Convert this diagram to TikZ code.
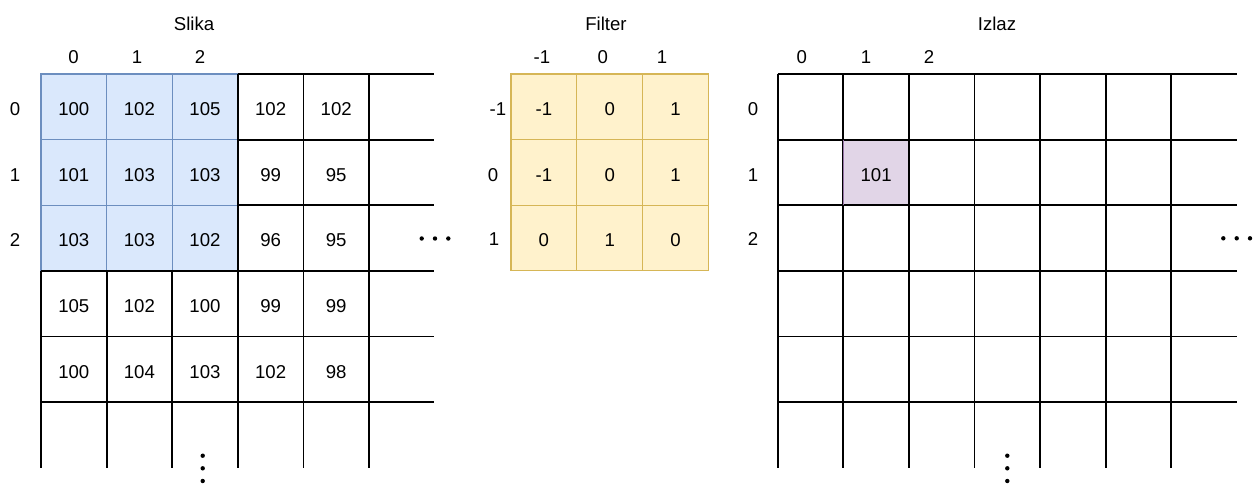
\documentclass[tikz,border=0pt]{standalone}
\usepackage{fontspec}
\setmainfont{Liberation Sans}
\definecolor{bluefill}{HTML}{DAE8FC}
\definecolor{bluedraw}{HTML}{6C8EBF}
\definecolor{yelfill}{HTML}{FFF2CC}
\definecolor{yeldraw}{HTML}{D6B656}
\definecolor{purfill}{HTML}{E1D5E7}
\definecolor{purdraw}{HTML}{9673A6}
\begin{document}
\begin{tikzpicture}[x=0.5pt,y=-0.5pt,
  txt/.style={font=\fontsize{9.3}{11}\selectfont, inner sep=0pt},
  gridline/.style={line width=0.9pt, black},
  bluecell/.style={fill=bluefill, draw=bluedraw, line width=0.55pt},
  yelcell/.style={fill=yelfill, draw=yeldraw, line width=0.55pt},
  purcell/.style={fill=purfill},
  dot/.style={fill=black}]
\useasboundingbox (0,0) rectangle (1259,483);

% ---------------- Slika ----------------
\foreach \r in {0,1,2} \foreach \c in {0,1,2}
  \draw[bluecell] ({41+65.6*\c},{74+65.6*\r}) rectangle ++(65.6,65.6);
\foreach \y in {74,139.6,205.2} \draw[gridline] (237.8,\y) -- (434,\y);
\foreach \y in {270.8,336.4,402} \draw[gridline] (41,\y) -- (434,\y);
\foreach \x in {237.8,303.4,369} \draw[gridline] (\x,74) -- (\x,467.6);
\foreach \x in {41,106.6,172.2} \draw[gridline] (\x,270.8) -- (\x,467.6);

\foreach \row [count=\r from 0] in {{100,102,105,102,102},{101,103,103,99,95},{103,103,102,96,95},{105,102,100,99,99},{100,104,103,102,98}}
  \foreach \v [count=\c from 0] in \row
    \node[txt] (s\r\c) at ({73.8+65.6*\c},{109.3+65.6*\r}) {\v};

\node[txt] (slika) at (194,24.2) {Slika};
\node[txt] (sc0) at (73.5,57) {0};
\node[txt] (sc1) at (137,57) {1};
\node[txt] (sc2) at (200,57) {2};
\node[txt] (sr0) at (15,109.3) {0};
\node[txt] (sr1) at (15,174.9) {1};
\node[txt] (sr2) at (15,239.5) {2};

\foreach \x in {421.7,435,448.3} \fill[dot] (\x,238.5) circle[radius=1.1pt];
\foreach \y in {455.7,468.3,481} \fill[dot] (202.7,\y) circle[radius=1.1pt];

% ---------------- Filter ----------------
\foreach \r in {0,1,2} \foreach \c in {0,1,2}
  \draw[yelcell] ({511+65.8*\c},{74+65.6*\r}) rectangle ++(65.8,65.6);
\foreach \row [count=\r from 0] in {{-1,0,1},{-1,0,1},{0,1,0}}
  \foreach \v [count=\c from 0] in \row
    \node[txt] (f\r\c) at ({543.9+65.8*\c},{109.3+65.6*\r}) {\v};

\node[txt] (filter) at (606,24.2) {Filter};
\node[txt] (fc0) at (542,57) {-1};
\node[txt] (fc1) at (602.7,57) {0};
\node[txt] (fc2) at (662,57) {1};
\node[txt] (fr0) at (498,109.3) {-1};
\node[txt] (fr1) at (493,174.9) {0};
\node[txt] (fr2) at (494,239.5) {1};

% ---------------- Izlaz ----------------
\fill[purcell] (843.3,139.6) rectangle ++(65.6,65.6);
\foreach \y in {74,139.6,205.2,270.8,336.4,402} \draw[gridline] (777.7,\y) -- (1237.3,\y);
\foreach \x in {777.7,843.3,908.9,974.5,1040.1,1105.7,1171.3} \draw[gridline] (\x,74) -- (\x,467.6);
\draw[purdraw, line width=0.55pt] (843.3,139.6) -- (843.3,205.2);
\node[txt] (o11) at (876.1,174.9) {101};

\node[txt] (izlaz) at (997,24.2) {Izlaz};
\node[txt] (oc0) at (801.7,57) {0};
\node[txt] (oc1) at (866,57) {1};
\node[txt] (oc2) at (929,57) {2};
\node[txt] (or0) at (753,109.3) {0};
\node[txt] (or1) at (753,174.9) {1};
\node[txt] (or2) at (753,238.5) {2};

\foreach \x in {1223.3,1236.7,1250} \fill[dot] (\x,238.3) circle[radius=1.1pt];
\foreach \y in {455.7,468.3,481} \fill[dot] (1007.3,\y) circle[radius=1.1pt];
\end{tikzpicture}
\end{document}
